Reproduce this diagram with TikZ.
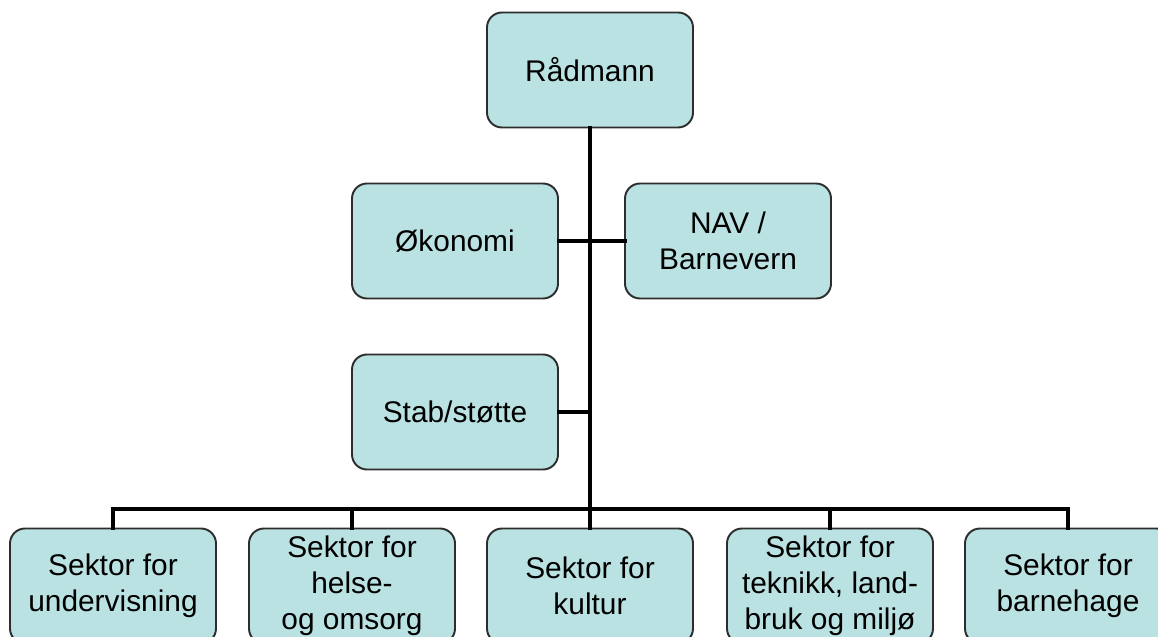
\documentclass[tikz,border=0pt]{standalone}
\usepackage{fontspec}
\setmainfont{Liberation Sans}
\definecolor{boxfill}{RGB}{186,226,226}
\definecolor{boxline}{RGB}{45,45,45}

\begin{document}
\begin{tikzpicture}[
			enhet/.style={draw=boxline,line width=1.1pt,fill=boxfill,rounded corners=0.3cm,
				minimum width=4.12cm,minimum height=2.3cm,align=center,
				font=\fontsize{17}{20.5}\selectfont},
			link/.style={line width=2.8pt,line cap=rect}]
			\useasboundingbox (0,0) rectangle (23.16,-12.74);
			\clip (0,0) rectangle (23.16,-12.74);
			\node[enhet] (rad) at (11.8,-1.4) {Rådmann};
			\node[enhet] (oko) at (9.1,-4.82) {Økonomi};
			\node[enhet] (nav) at (14.56,-4.82) {NAV /\\Barnevern};
			\node[enhet] (stab) at (9.1,-8.24) {Stab/støtte};

			\node[enhet] (sek1) at (2.26,-11.72) {Sektor for\\undervisning};
			\node[enhet,inner ysep=0pt] (sek2) at (7.04,-11.72)
				{\raisebox{-0.1cm}{\begin{tabular}{@{}c@{}}Sektor for\\helse-\\og omsorg\end{tabular}}};
			\node[enhet] (sek3) at (11.8,-11.72) {Sektor for\\kultur};
			\node[enhet] (sek4) at (16.6,-11.72) {Sektor for\\teknikk, land-\\bruk og miljø};
			\node[enhet] (sek5) at (21.36,-11.72) {Sektor for\\barnehage};

			\coordinate (hub) at (11.8,-10.18);
			\draw[link] (rad.south) -- (hub);
			\draw[link] (oko.east) -- (nav.west);
			\draw[link] (stab.east) -- (stab.east -| hub);
			\draw[link] (sek1.north) |- (hub) -| (sek5.north);
			\draw[link] (sek2.north) -- (sek2.north |- hub);
			\draw[link] (sek3.north) -- (hub);
			\draw[link] (sek4.north) -- (sek4.north |- hub);
			\end{tikzpicture}
\end{document}
